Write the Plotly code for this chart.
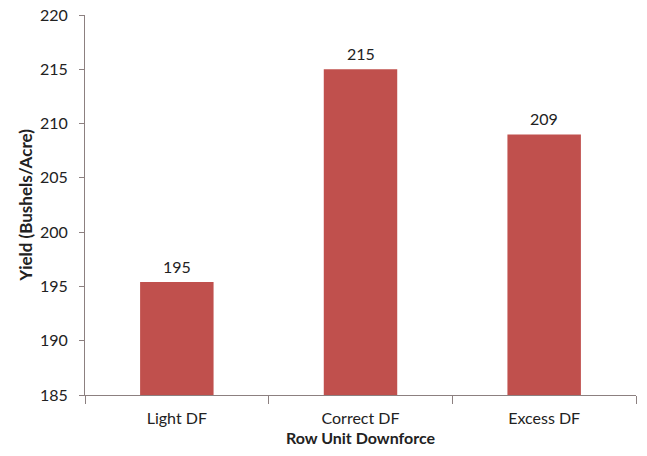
import plotly.graph_objects as go

categories = ["Light DF", "Correct DF", "Excess DF"]
yields = [195.4, 215.0, 209.0]
labels = ["195", "215", "209"]

fig = go.Figure()
fig.add_trace(go.Bar(
    x=categories, y=yields,
    marker=dict(color="#C0504D", line=dict(width=0)),
    width=0.4,
))
for c, v, t in zip(categories, yields, labels):
    fig.add_annotation(
        x=c, y=v, text=t, showarrow=False, yanchor="bottom", yshift=4,
        font=dict(family="Lato", size=16, color="#222222"),
    )
fig.update_layout(
    width=647, height=456,
    margin=dict(l=85, r=11, t=15, b=61),
    plot_bgcolor="white", paper_bgcolor="white",
    showlegend=False,
    font=dict(family="Lato", size=15, color="#222222"),
)
fig.update_yaxes(
    range=[185, 220], dtick=5, tick0=185, automargin=False,
    showgrid=False, zeroline=False,
    showline=True, linecolor="#8c8080", linewidth=1,
    ticks="outside", ticklen=5, tickcolor="#8c8080", ticklabelstandoff=8,
    tickfont=dict(family="Lato", size=16, color="#222222"),
    title=dict(text="<b>Yield (Bushels/Acre)</b>", font=dict(family="Lato", size=17, color="#222222"), standoff=3),
)
fig.update_xaxes(
    showgrid=False, showline=True, linecolor="#8c8080", linewidth=1, automargin=False,
    ticks="outside", ticklen=8, tickcolor="#8c8080", tickson="boundaries", ticklabelstandoff=9,
    tickfont=dict(family="Lato", size=16, color="#222222"),
    title=dict(text="<b>Row Unit Downforce</b>", font=dict(family="Lato", size=16, color="#222222"), standoff=6),
)
fig.write_html("out.html")
